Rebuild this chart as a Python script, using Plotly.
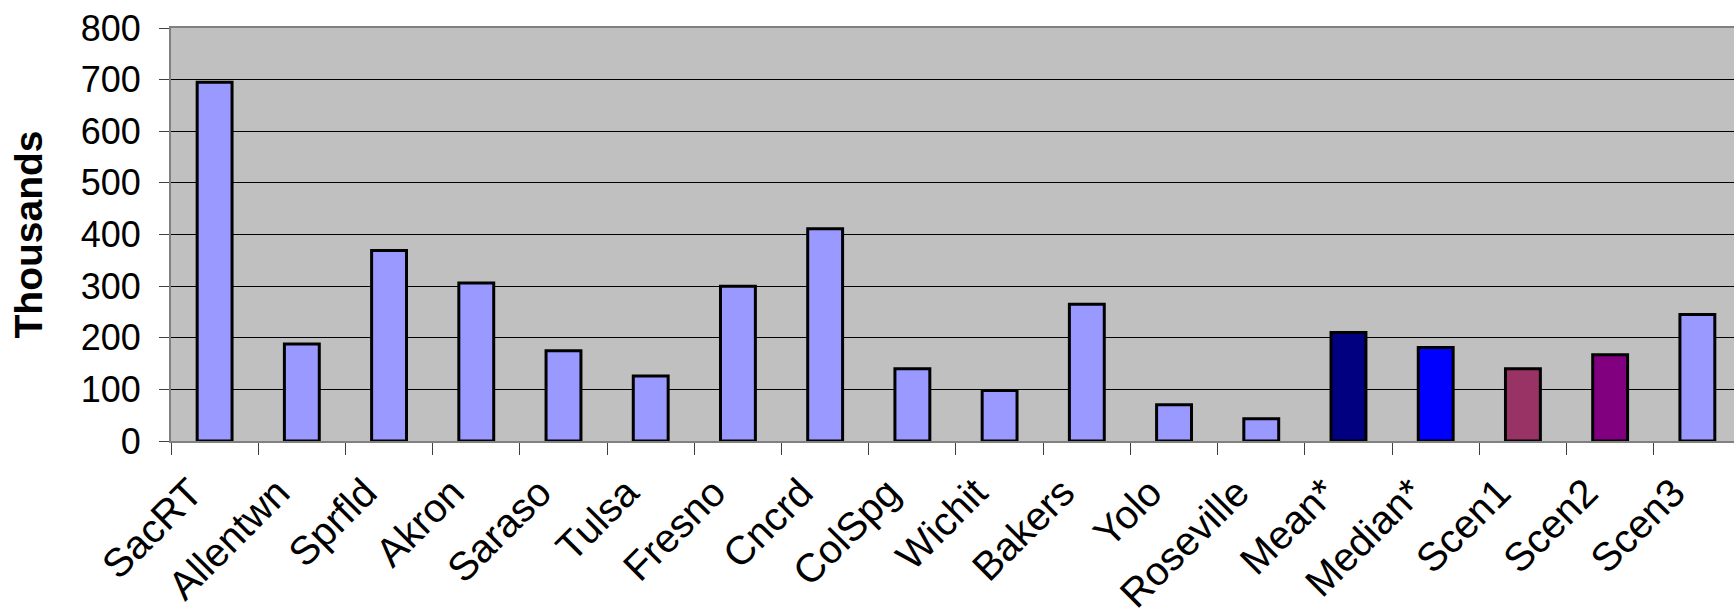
import plotly.graph_objects as go

# Annual figures, in thousands
categories = ["SacRT", "Allentwn", "Sprfld", "Akron", "Saraso", "Tulsa", "Fresno",
              "Cncrd", "ColSpg", "Wichit", "Bakers", "Yolo", "Roseville",
              "Mean*", "Median*", "Scen1", "Scen2", "Scen3"]
values = [695, 188, 369, 306, 175, 126, 300, 411, 140, 98, 265, 70, 43,
          210, 181, 140, 167, 245]
bar_colors = ["#9999FF"] * 13 + ["#000080", "#0000FF", "#993366", "#800080", "#9999FF"]
y_ticks = [0, 100, 200, 300, 400, 500, 600, 700, 800]

FONT = "Liberation Sans, Arial, sans-serif"

fig = go.Figure(
    go.Bar(
        x=categories,
        y=values,
        width=0.4,
        marker=dict(color=bar_colors, line=dict(color="black", width=3)),
    )
)

fig.update_layout(
    width=1734,
    height=609,
    margin=dict(l=171, r=0, t=28, b=168, autoexpand=False),
    paper_bgcolor="white",
    plot_bgcolor="#C0C0C0",
    showlegend=False,
    font=dict(family=FONT, color="black"),
)

fig.update_xaxes(
    type="category",
    range=[-0.5, 17.42],
    tickangle=-45,
    tickfont=dict(size=40, family=FONT),
    ticks="outside",
    tickson="boundaries",
    ticklen=12,
    tickcolor="#404040",
    tickwidth=1,
    ticklabelstandoff=10,
    ticklabelshift=-24,
    showline=True,
    linecolor="#808080",
    linewidth=2,
    mirror=True,
    showgrid=False,
    automargin=False,
)

fig.update_yaxes(
    range=[0, 800],
    tickvals=y_ticks,
    ticktext=[str(v) for v in y_ticks],
    tickfont=dict(size=36, family=FONT),
    ticks="outside",
    ticklen=10,
    tickcolor="#404040",
    tickwidth=1,
    ticklabelstandoff=11,
    showline=True,
    linecolor="#808080",
    linewidth=2,
    showgrid=True,
    gridcolor="black",
    gridwidth=1,
    zeroline=False,
    title=dict(text="<b>Thousands</b>", font=dict(size=39, family=FONT), standoff=26),
    automargin=False,
)

fig.write_html("out.html")
